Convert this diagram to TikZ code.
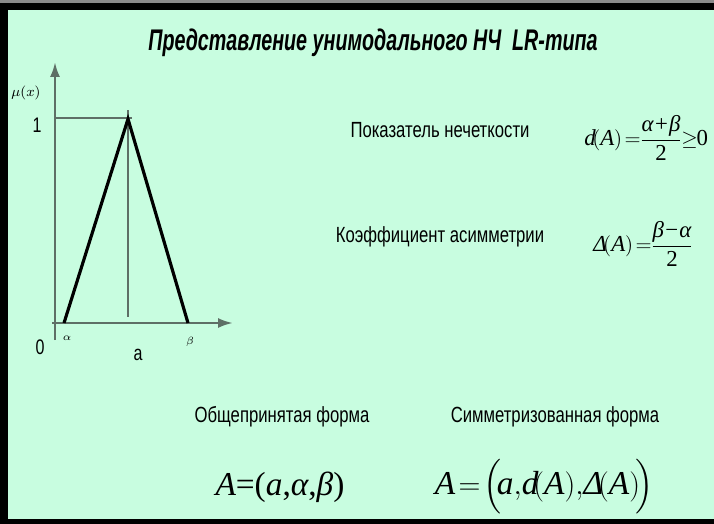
\documentclass[tikz,border=0pt]{standalone}
\usepackage{amsmath}
\usepackage{fontspec}
\setmainfont{Liberation Serif}
\newfontfamily\narrowfont[FakeStretch=0.76]{Liberation Sans}
\newfontfamily\titlefont[FakeStretch=0.66]{Liberation Sans}
\usetikzlibrary{arrows.meta,positioning}
\definecolor{slidemint}{HTML}{C8FDE0}
\definecolor{axisgray}{HTML}{5E6F66}
\definecolor{framegray}{HTML}{8A8A8A}
\newcommand{\tm}[1]{\text{\itshape #1}}
\tikzset{
  caption/.style={font=\narrowfont\fontsize{12.5}{14}\selectfont, inner sep=0pt},
  titletext/.style={font=\titlefont\bfseries\itshape\fontsize{17}{20}\selectfont, inner sep=0pt},
  formula/.style={font=\fontsize{13}{15}\selectfont, inner sep=0pt},
  bigformula/.style={font=\fontsize{19}{22}\selectfont, inner sep=0pt},
  ticklabel/.style={font=\narrowfont\fontsize{12}{14}\selectfont, inner sep=0pt},
  tinylabel/.style={font=\fontsize{6}{7}\selectfont, inner sep=0pt},
  axis/.style={draw=axisgray, line width=1.4pt},
  axisarrow/.style={axis, -{Latex[length=3mm,width=2mm]}},
  fuzzyline/.style={draw=black, line width=1.8pt, line join=miter}
}

\begin{document}
\begin{tikzpicture}[x=0.02cm, y=-0.02cm]
\useasboundingbox (0,0) rectangle (714,524);
% slide frame
\fill[slidemint] (0,0) rectangle (714,524);
\fill[framegray] (0,0) rectangle (714,3);
\fill[black] (0,3) rectangle (714,10);
\fill[black] (0,3) rectangle (8,524);
\fill[black] (0,519) rectangle (714,524);

\node[titletext] (title) at (373,43) {Представление унимодального НЧ\ \ LR-типа};

% membership function
\coordinate (ybot) at (55,340);
\coordinate (ytop) at (55,62);
\coordinate (xleft) at (52,323);
\coordinate (xright) at (233,323);
\coordinate (lfoot) at (64,323);
\coordinate (apex) at (128,119);
\coordinate (rfoot) at (188,323);
\coordinate (modetop) at (128,110);
\coordinate (modebot) at (128,317);
\coordinate (onestart) at (55,118);
\coordinate (oneend) at (132,118);
\draw[axisarrow] (ybot) -- (ytop);
\draw[axisarrow] (xleft) -- (xright);
\draw[axis] (onestart) -- (oneend);
\draw[axis] (modetop) -- (modebot);
\draw[fuzzyline] (lfoot) -- (apex) -- (rfoot);

\node[font=\fontsize{8}{9}\selectfont, inner sep=0pt] (mulabel) at (26,93) {$\mu(x)$};
\node[ticklabel] (onelabel) at (37,125) {1};
\node[ticklabel] (zerolabel) at (40,347) {0};
\node[tinylabel] (alphalabel) at (67,338) {$\alpha$};
\node[tinylabel] (betalabel) at (190,342) {$\beta$};
\node[ticklabel] (alabel) at (138,355) {a};

% characteristics
\node[caption] (fuzzname) at (440,130) {Показатель нечеткости};
\node[formula, anchor=west] (fuzzeq) at (584,138)
  {$\tm{d}\!(\tm{A})\!=\!\!\dfrac{\tm{α+β}}{\text{2}}\!\!\geq\!\! \text{0}$};
\node[caption] (asymname) at (440,237) {Коэффициент асимметрии};
\node[formula, anchor=west] (asymeq) at (593,244)
  {$\tm{Δ}\!(\tm{A})\!=\!\!\dfrac{\tm{β−α}}{\text{2}}$};

% forms
\node[caption] (usualname) at (282,417) {Общепринятая форма};
\node[caption] (symname) at (555,417) {Симметризованная форма};
\node[bigformula] (usualeq) at (280,487) {\tm{A}=(\tm{a},\tm{α},\tm{β})};
\node[bigformula] (symeq) at (544,487)
  {$\tm{A}\!=\!\Bigl(\!\tm{a}{,}\tm{d}\!(\tm{A}){,}\tm{Δ}\!(\tm{A})\!\Bigr)$};
\end{tikzpicture}
\end{document}
